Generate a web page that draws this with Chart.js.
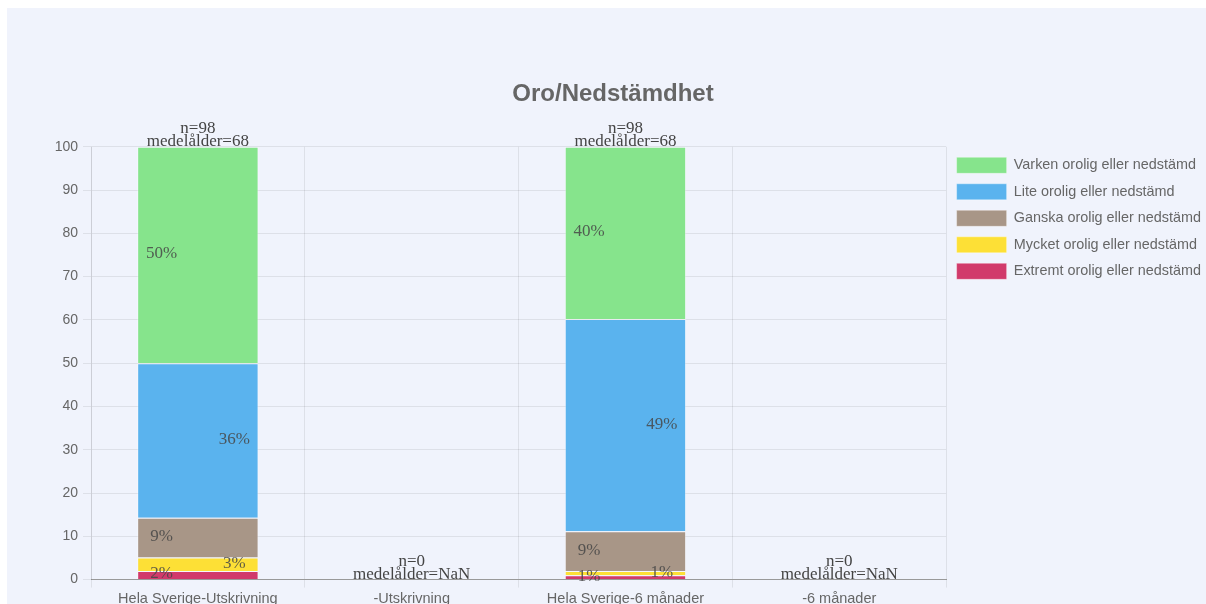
<!DOCTYPE html>
<html lang="sv">
<head>
    <meta charset="UTF-8">
    <title>Oro/Nedstämdhet</title>
    <script src="https://cdn.jsdelivr.net/npm/chart.js"></script>
    <style>
        html, body {
            margin: 0;
            padding: 0;
            background: #ffffff;
            overflow: hidden;
        }
        #chartBox {
            position: absolute;
            left: 7px;
            top: 8px;
            width: 1212px;
            height: 603px;
            background: #f0f3fc;
        }
    </style>
</head>
<body>
    <div id="chartBox">
        <canvas id="oroChart" width="1212" height="603"></canvas>
    </div>

    <script>
        // Categories on the x axis
        const categories = ['Hela Sverige-Utskrivning', '-Utskrivning', 'Hela Sverige-6 månader', '-6 månader'];

        // Percent per answer, bottom of stack first
        const extremt = [2.0, 0, 1.0, 0];
        const mycket = [3.1, 0, 1.0, 0];
        const ganska = [9.2, 0, 9.2, 0];
        const lite = [35.7, 0, 49.0, 0];
        const varken = [50.0, 0, 39.8, 0];

        // Counts and mean age shown above each bar
        const nCount = [98, 0, 98, 0];
        const meanAge = [68, NaN, 68, NaN];

        const yTicks = [0, 10, 20, 30, 40, 50, 60, 70, 80, 90, 100];

        // Draws the percent inside each segment and the n / medelålder text on top
        const barTextPlugin = {
            id: 'barText',
            afterDatasetsDraw(chart) {
                const ctx = chart.ctx;
                ctx.save();
                ctx.font = '17px "Liberation Serif", "Times New Roman", serif';
                ctx.fillStyle = 'rgba(70, 70, 70, 0.85)';
                ctx.textAlign = 'center';
                ctx.textBaseline = 'middle';
                chart.data.datasets.forEach((ds, i) => {
                    const meta = chart.getDatasetMeta(i);
                    meta.data.forEach((bar, j) => {
                        const v = ds.data[j];
                        if (!v) return;
                        const side = (i % 2 === 0) ? -0.3 : 0.3;
                        const x = bar.x + side * bar.width;
                        const y = (bar.y + bar.base) / 2 - 1;
                        ctx.fillText(Math.round(v) + '%', x, y);
                    });
                });

                const xs = chart.scales.x;
                const ys = chart.scales.y;
                ctx.fillStyle = '#444';
                ctx.textBaseline = 'alphabetic';
                categories.forEach((c, j) => {
                    let total = 0;
                    chart.data.datasets.forEach(ds => { total += ds.data[j]; });
                    const x = xs.getPixelForValue(j);
                    const y = ys.getPixelForValue(total);
                    ctx.fillText('n=' + nCount[j], x, y - 14);
                    ctx.fillText('medelålder=' + meanAge[j], x, y - 1);
                });
                ctx.restore();
            }
        };

        const ctx = document.getElementById('oroChart').getContext('2d');
        const common = {
            borderColor: 'rgba(255, 255, 255, 0.35)',
            borderWidth: 1,
            barPercentage: 0.71,
            categoryPercentage: 0.8
        };

        new Chart(ctx, {
            type: 'bar',
            data: {
                labels: categories,
                datasets: [
                    { label: 'Extremt orolig eller nedstämd', data: extremt, backgroundColor: '#d13a6b', ...common },
                    { label: 'Mycket orolig eller nedstämd', data: mycket, backgroundColor: '#fde036', ...common },
                    { label: 'Ganska orolig eller nedstämd', data: ganska, backgroundColor: '#a89687', ...common },
                    { label: 'Lite orolig eller nedstämd', data: lite, backgroundColor: '#5ab3ee', ...common },
                    { label: 'Varken orolig eller nedstämd', data: varken, backgroundColor: '#86e48c', ...common }
                ]
            },
            options: {
                responsive: false,
                animation: false,
                layout: {
                    padding: { left: 8, right: 8, top: 0, bottom: 0 }
                },
                plugins: {
                    title: {
                        display: true,
                        text: 'Oro/Nedstämdhet',
                        color: '#666',
                        font: { size: 24, weight: 'bold' },
                        padding: { top: 72, bottom: 38 }
                    },
                    legend: {
                        position: 'right',
                        align: 'start',
                        fullSize: false,
                        reverse: true,
                        labels: {
                            color: '#666',
                            font: { size: 14.4 },
                            boxWidth: 50,
                            boxHeight: 16,
                            padding: 10.5
                        }
                    },
                    tooltip: { enabled: false }
                },
                scales: {
                    x: {
                        stacked: true,
                        grid: { color: 'rgba(0, 0, 0, 0.08)' },
                        border: { color: '#999' },
                        ticks: { color: '#666', font: { size: 14.5 } }
                    },
                    y: {
                        stacked: true,
                        min: yTicks[0],
                        max: yTicks[yTicks.length - 1],
                        afterFit(scale) { scale.width = 76; },
                        grid: { color: 'rgba(0, 0, 0, 0.08)' },
                        border: { color: 'rgba(0, 0, 0, 0.08)' },
                        ticks: { color: '#666', font: { size: 14 }, padding: 5, stepSize: yTicks[1] - yTicks[0] }
                    }
                }
            },
            plugins: [barTextPlugin]
        });
    </script>
</body>
</html>
